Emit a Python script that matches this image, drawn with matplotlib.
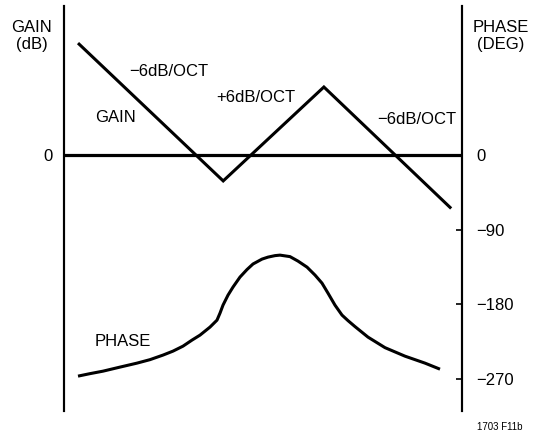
import numpy as np
import matplotlib
matplotlib.use("Agg")
import matplotlib.pyplot as plt

plt.rcParams['font.family'] = ['Liberation Sans Narrow', 'Liberation Sans', 'DejaVu Sans']

# frequency axis in octaves (arbitrary origin)
gain_oct = [0.38, 4.0, 6.53, 9.7]
gain_db = [17.6, -4.1, 10.8, -8.3]

phase_oct = [0.352, 0.653, 0.980, 1.407, 1.834, 2.161, 2.487, 2.739, 2.990,
             3.216, 3.417, 3.668, 3.844, 3.920, 3.995, 4.121, 4.246, 4.422,
             4.598, 4.749, 4.975, 5.126, 5.302, 5.427, 5.678, 5.879, 6.106,
             6.307, 6.482, 6.633, 6.809, 6.985, 7.136, 7.312, 7.638, 8.065,
             8.568, 9.070, 9.447]
phase_deg = [-266.9, -263.9, -260.9, -256.0, -251.2, -247.0, -241.5, -236.7,
             -230.7, -223.4, -217.4, -207.7, -199.3, -190.8, -181.2, -169.1,
             -159.4, -147.3, -138.2, -131.5, -125.6, -123.2, -121.4, -120.8,
             -122.6, -128.0, -135.3, -144.9, -154.6, -166.7, -181.2, -193.2,
             -199.9, -207.1, -219.8, -232.5, -242.8, -251.2, -258.5]

phase_ticks = [0, -90, -180, -270]
phase_lim = (-309, 180)
db_per_deg = 0.1314

fig = plt.figure(figsize=(5.36, 4.33), dpi=100)
ax = fig.add_axes([64/536, 22/433, 398/536, 405/433])
ax2 = ax.twinx()

ax.set_xlim(0, 10)
ax.set_ylim(phase_lim[0]*db_per_deg, phase_lim[1]*db_per_deg)
ax2.set_ylim(*phase_lim)

for a in (ax, ax2):
    a.spines['top'].set_visible(False)
    a.spines['bottom'].set_visible(False)
    a.spines['left'].set_linewidth(1.5)
    a.spines['right'].set_linewidth(1.5)
    a.set_xticks([])

ax.axhline(0, color='black', lw=2.3)
ax.plot(gain_oct, gain_db, color='black', lw=2.2, solid_joinstyle='miter')
ax2.plot(phase_oct, phase_deg, color='black', lw=2.2,
         solid_joinstyle='round', solid_capstyle='butt')

ax.set_yticks([0])
ax.set_yticklabels(['0'])
ax.tick_params(axis='y', length=0, pad=8.5, labelsize=12)

ax2.set_yticks(phase_ticks)
ax2.set_yticklabels([str(t).replace('-', '\u2212') for t in phase_ticks])
ax2.tick_params(axis='y', direction='in', length=4, width=1.2, pad=10.5, labelsize=12)
ax2.yaxis.get_major_ticks()[0].tick2line.set_visible(False)

fig.text(32/536, 1 - 36/433, 'GAIN\n(dB)', ha='center', va='center', fontsize=12, linespacing=1.25)
fig.text(501/536, 1 - 36/433, 'PHASE\n(DEG)', ha='center', va='center', fontsize=12, linespacing=1.25)

fig.text(129/536, 1 - 72/433, '\u22126dB/OCT', ha='left', va='center', fontsize=12)
fig.text(115/536, 1 - 117/433, 'GAIN', ha='center', va='center', fontsize=12)
fig.text(256/536, 1 - 98/433, '+6dB/OCT', ha='center', va='center', fontsize=12)
fig.text(377/536, 1 - 120/433, '\u22126dB/OCT', ha='left', va='center', fontsize=12)
fig.text(123/536, 1 - 341/433, 'PHASE', ha='center', va='center', fontsize=12)
fig.text(500/536, 1 - 427/433, '1703 F11b', ha='center', va='center', fontsize=7)

fig.savefig('out.png', dpi=100)
